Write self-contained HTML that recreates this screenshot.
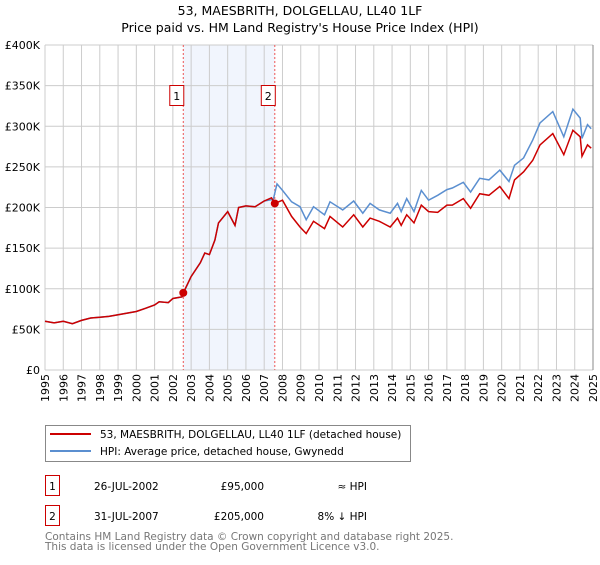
<!DOCTYPE html>
<html><head><meta charset="utf-8"><style>
body{margin:0;background:#fff;}
svg{font-family:"DejaVu Sans","Liberation Sans",sans-serif;}
</style></head><body>
<svg id="c" width="600" height="560" xmlns="http://www.w3.org/2000/svg">
<text x="300" y="15" text-anchor="middle" font-size="12.5" fill="#000">53, MAESBRITH, DOLGELLAU, LL40 1LF</text>
<text x="300" y="32" text-anchor="middle" font-size="12.5" fill="#000">Price paid vs. HM Land Registry's House Price Index (HPI)</text>
<g id="plot"></g>
<g>
<rect x="45.5" y="425.5" width="365" height="36" fill="#fff" stroke="#888"/>
<line x1="50" y1="434" x2="91" y2="434" stroke="#cc0000" stroke-width="2"/>
<text x="100" y="438" font-size="10.5">53, MAESBRITH, DOLGELLAU, LL40 1LF (detached house)</text>
<line x1="50" y1="451" x2="91" y2="451" stroke="#5b8fd0" stroke-width="2"/>
<text x="100" y="455" font-size="10.5">HPI: Average price, detached house, Gwynedd</text>
</g>
<g font-size="10.5">
<rect x="45.5" y="475.5" width="14" height="20" fill="#fff" stroke="#cc0000"/>
<text x="52.5" y="490" text-anchor="middle">1</text>
<text x="94" y="490">26-JUL-2002</text>
<text x="264" y="490" text-anchor="end">£95,000</text>
<text x="367" y="490" text-anchor="end">≈ HPI</text>
<rect x="45.5" y="505.5" width="14" height="20" fill="#fff" stroke="#cc0000"/>
<text x="52.5" y="520" text-anchor="middle">2</text>
<text x="94" y="520">31-JUL-2007</text>
<text x="264" y="520" text-anchor="end">£205,000</text>
<text x="367" y="520" text-anchor="end">8% ↓ HPI</text>
</g>
<text x="45" y="540" font-size="10.5" fill="#777">Contains HM Land Registry data © Crown copyright and database right 2025.</text>
<text x="45" y="550" font-size="10.5" fill="#777">This data is licensed under the Open Government Licence v3.0.</text>
</svg>
<script>
const yearTicks=[1995,1996,1997,1998,1999,2000,2001,2002,2003,2004,2005,2006,2007,2008,2009,2010,2011,2012,2013,2014,2015,2016,2017,2018,2019,2020,2021,2022,2023,2024,2025];
const priceTicks=[0,50,100,150,200,250,300,350,400];
const priceLabels=["£0","£50K","£100K","£150K","£200K","£250K","£300K","£350K","£400K"];
const hpiYears=[1995,1995.5,1996,1996.5,1997,1997.5,1998,1998.5,1999,1999.5,2000,2000.5,2001,2001.25,2001.75,2002,2002.5,2002.57,2003,2003.5,2003.75,2004,2004.3,2004.5,2005,2005.4,2005.6,2006,2006.5,2007,2007.5,2007.7,2008,2008.5,2008.96,2009.3,2009.7,2010.3,2010.6,2011.3,2011.9,2012.4,2012.8,2013.3,2013.9,2014.3,2014.5,2014.8,2015.2,2015.6,2016.0,2016.5,2017.0,2017.3,2017.9,2018.3,2018.8,2019.3,2019.9,2020.4,2020.7,2021.2,2021.7,2022.1,2022.8,2023.4,2023.9,2024.3,2024.4,2024.7,2024.9];
const hpiValues=[60,58,60,57,61,64,65,66,68,70,72,76,80,84,83,88,90,94,115,132,144,142,160,181,195,178,200,202,201,208,210,229,221,207,201,185,201,191,207,197,208,193,205,197,193,205,195,211,195,221,209,215,222,224,231,219,236,234,246,232,252,261,283,304,318,287,321,310,285,302,297];
const priceYears=[1995,1995.5,1996,1996.5,1997,1997.5,1998,1998.5,1999,1999.5,2000,2000.5,2001,2001.25,2001.75,2002,2002.5,2002.57,2003,2003.5,2003.75,2004,2004.3,2004.5,2005,2005.4,2005.6,2006,2006.5,2007,2007.4,2007.58,2008,2008.5,2008.96,2009.3,2009.7,2010.3,2010.6,2011.3,2011.9,2012.4,2012.8,2013.3,2013.9,2014.3,2014.5,2014.8,2015.2,2015.6,2016.0,2016.5,2017.0,2017.3,2017.9,2018.3,2018.8,2019.3,2019.9,2020.4,2020.7,2021.2,2021.7,2022.1,2022.8,2023.4,2023.9,2024.3,2024.4,2024.7,2024.9];
const priceValues=[60,58,60,57,61,64,65,66,68,70,72,76,80,84,83,88,90,95,115,132,144,142,160,181,195,178,200,202,201,208,212,205,209,189,176,168,183,174,189,176,191,176,187,183,176,187,178,191,181,203,195,194,203,203,211,199,217,215,226,211,234,244,258,277,291,265,295,287,263,277,273];
const saleYears=[2002.57,2007.58];
const saleValues=[95,205];
const saleLabels=["1","2"];

const L=45,R=593,T=45,B=370;
const xs=y=>L+(y-1995)/(2025-1995)*(R-L);
const ys=v=>B-v/400*(B-T);
const NS="http://www.w3.org/2000/svg";
const g=document.getElementById('plot');
function mk(t,a){const e=document.createElementNS(NS,t);for(const k in a)e.setAttribute(k,a[k]);g.appendChild(e);return e;}
let e=mk('rect',{x:xs(saleYears[0]),y:T,width:xs(saleYears[1])-xs(saleYears[0]),height:B-T,fill:'#eef2fc',opacity:0.8});


yearTicks.forEach(yr=>{
 const l=mk('line',{x1:xs(yr),x2:xs(yr),y1:T,y2:B,stroke:'#cccccc','stroke-width':1});
 
 
 const x=xs(yr)+4,y=B+4;
 const t=mk('text',{x:x,y:y,'font-size':11,'text-anchor':'end',transform:`rotate(-90 ${x} ${y})`});
 t.textContent=yr;
 
 
});
priceTicks.forEach((v,i)=>{
 const l=mk('line',{x1:L,x2:R,y1:ys(v),y2:ys(v),stroke:'#cccccc','stroke-width':1});
 
 
 const t=mk('text',{x:L-5,y:ys(v)+4,'font-size':11,'text-anchor':'end'});
 t.textContent=priceLabels[i];
 
 
});
saleYears.forEach((yr,i)=>{
 const l=mk('line',{x1:xs(yr),x2:xs(yr),y1:T,y2:B,stroke:'#ee5555','stroke-width':1,'stroke-dasharray':'2,2'});
 
 
 const r=mk('rect',{x:xs(yr)-13.5,y:85.5,width:14,height:20,fill:'#fff',stroke:'#cc0000'});
 
 
 const t=mk('text',{x:xs(yr)-6.5,y:100,'font-size':11,'text-anchor':'middle'});
 t.textContent=saleLabels[i];
 
 
});
const hp=mk('path',{d:hpiYears.map((y,i)=>(i?'L':'M')+xs(y).toFixed(1)+','+ys(hpiValues[i]).toFixed(1)).join(''),fill:'none',stroke:'#5b8fd0','stroke-width':1.5});


const pp=mk('path',{d:priceYears.map((y,i)=>(i?'L':'M')+xs(y).toFixed(1)+','+ys(priceValues[i]).toFixed(1)).join(''),fill:'none',stroke:'#cc0000','stroke-width':1.5});


saleYears.forEach((yr,i)=>{
 const c=mk('circle',{cx:xs(yr),cy:ys(saleValues[i]),r:4,fill:'#cc0000'});
 
 
});
const ax=mk('line',{x1:R,x2:R,y1:T,y2:B,stroke:'#888','stroke-width':1});


</script>
</body></html>
